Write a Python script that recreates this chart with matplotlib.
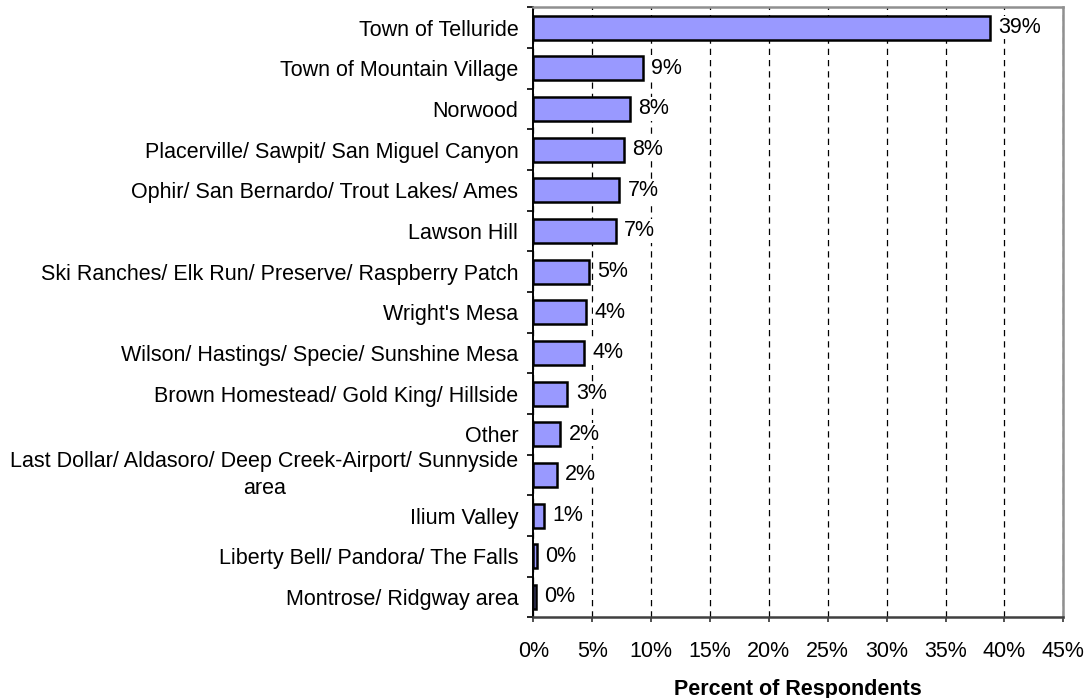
import numpy as np
import matplotlib
matplotlib.use("Agg")
import matplotlib.pyplot as plt

# Survey data, top row first
areas = ["Town of Telluride",
         "Town of Mountain Village",
         "Norwood",
         "Placerville/ Sawpit/ San Miguel Canyon",
         "Ophir/ San Bernardo/ Trout Lakes/ Ames",
         "Lawson Hill",
         "Ski Ranches/ Elk Run/ Preserve/ Raspberry Patch",
         "Wright's Mesa",
         "Wilson/ Hastings/ Specie/ Sunshine Mesa",
         "Brown Homestead/ Gold King/ Hillside",
         "Other",
         "Last Dollar/ Aldasoro/ Deep Creek-Airport/ Sunnyside\narea",
         "Ilium Valley",
         "Liberty Bell/ Pandora/ The Falls",
         "Montrose/ Ridgway area"]
percent = [38.8, 9.3, 8.2, 7.7, 7.3, 7.0, 4.7, 4.45, 4.3, 2.9, 2.3, 2.0, 0.9, 0.3, 0.2]
xticks = [0, 5, 10, 15, 20, 25, 30, 35, 40, 45]

plt.rcParams['font.family'] = ['Liberation Sans', 'DejaVu Sans']
plt.rcParams['lines.scale_dashes'] = False
fontsize = 15.5

fig = plt.figure(figsize=(10.88, 6.98), dpi=100)
ax = fig.add_axes([0.4902, 0.1156, 0.4871, 0.8739])

ypos = np.arange(len(areas))
ax.barh(ypos, percent, height=0.59, color="#9999FF", edgecolor="black", linewidth=1.8, zorder=3)

# value labels at the bar ends, on white so the grid stops behind them
for y, v in zip(ypos, percent):
    ax.annotate(f"{v:.0f}%", (v, y), xytext=(6, 0), textcoords="offset points",
                ha="left", va="center", fontsize=fontsize, zorder=4,
                bbox=dict(facecolor="white", edgecolor="none", pad=1))

ax.set_xlim(0, 45)
ax.set_ylim(len(areas) - 0.5, -0.5)

ax.set_xticks(xticks)
ax.set_xticklabels([f"{t}%" for t in xticks], fontsize=fontsize)
ax.set_yticks(ypos)
ax.set_yticklabels(areas, fontsize=fontsize, multialignment="center", linespacing=1.42)
for lab in ax.get_yticklabels():
    if "\n" in lab.get_text():
        lab.set_verticalalignment("center")
ax.set_yticks(np.arange(len(areas) + 1) - 0.5, minor=True)

ax.tick_params(axis='y', which='major', length=0, pad=10.8)
ax.tick_params(axis='y', which='minor', direction='out', length=4.3, width=1.2, color="black")
ax.tick_params(axis='x', which='major', direction='out', length=3.6, width=1.2, pad=13.5, color="#333333")

ax.grid(axis='x', color="black", linestyle=(0, (4.5, 3.6)), linewidth=0.9, zorder=1)

ax.spines['left'].set_color("black")
ax.spines['left'].set_linewidth(1.4)
ax.spines['bottom'].set_color("#404040")
ax.spines['bottom'].set_linewidth(1.8)
ax.spines['top'].set_color("#909090")
ax.spines['top'].set_linewidth(1.8)
ax.spines['right'].set_color("#909090")
ax.spines['right'].set_linewidth(1.8)

ax.set_xlabel("Percent of Respondents", fontsize=fontsize, fontweight="bold", labelpad=12)

plt.savefig("out.png", dpi=100)
plt.close()
